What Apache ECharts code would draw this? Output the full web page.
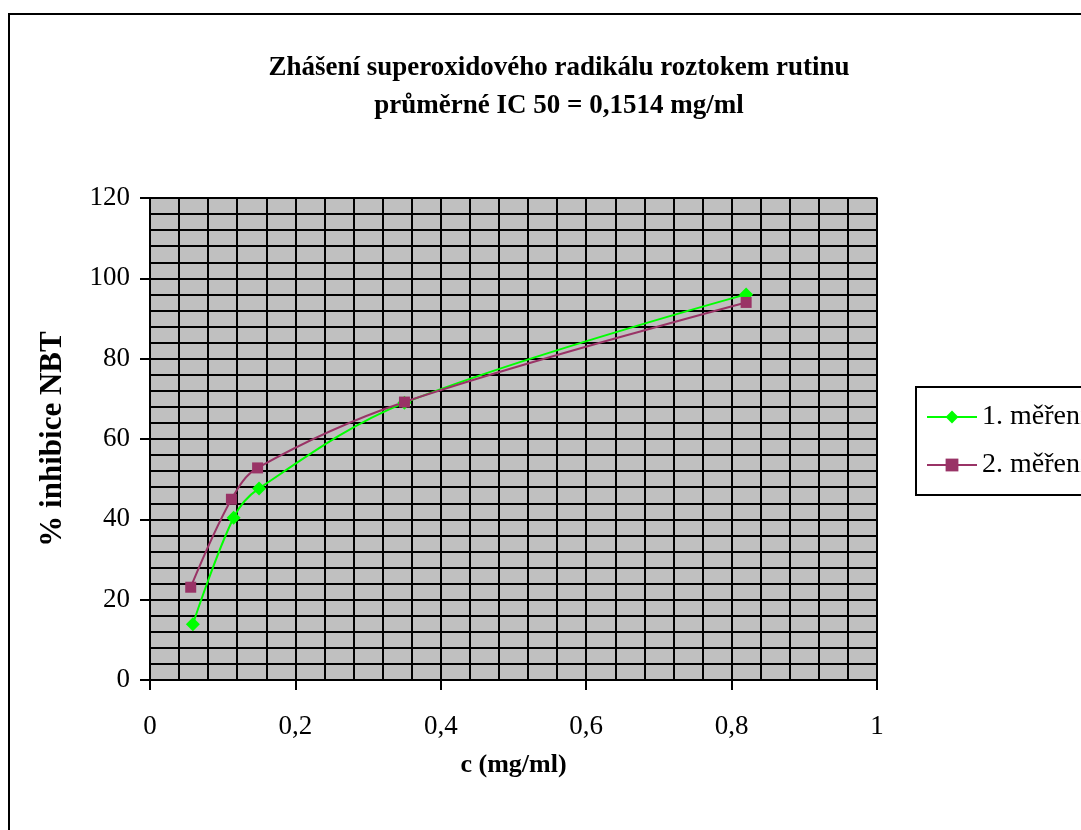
<!DOCTYPE html>
<html lang="cs">
<head>
    <meta charset="UTF-8">
    <title>Zhášení superoxidového radikálu</title>
    <script src="https://cdn.jsdelivr.net/npm/echarts@6/dist/echarts.min.js"></script>
    <style>
        html, body { margin: 0; padding: 0; background: #fff; }
    </style>
</head>
<body>
    <div id="chart" style="width:1081px;height:830px"></div>
    <script type="text/javascript">
        // data
        var seriesNames = ['1. měření', '2. měření'];
        var conc1 = [0.059, 0.115, 0.150, 0.350, 0.820];
        var inhib1 = [13.9, 40.4, 47.7, 69.0, 96.0];
        var conc2 = [0.056, 0.112, 0.148, 0.350, 0.820];
        var inhib2 = [23.1, 45.0, 52.8, 69.2, 94.0];
        var titleLines = ['Zhášení superoxidového radikálu roztokem rutinu', 'průměrné IC 50 = 0,1514 mg/ml'];

        var pairs = function (xs, ys) {
            var res = [];
            for (var i = 0; i < xs.length; i++) {
                res.push([xs[i], ys[i]]);
            }
            return res;
        };

        var serif = '"Liberation Serif", serif';
        var myChart = echarts.init(document.getElementById('chart'));

        var option = {
            animation: false,
            title: {
                text: titleLines.join('\n'),
                left: 554,
                top: 44,
                textAlign: 'center',
                textStyle: {
                    fontFamily: serif,
                    fontWeight: 'bold',
                    fontSize: 27,
                    lineHeight: 38,
                    color: '#000'
                }
            },
            graphic: [{
                type: 'rect',
                shape: { x: 9, y: 14, width: 1200, height: 900 },
                style: { fill: 'none', stroke: '#000', lineWidth: 2 },
                silent: true
            }],
            legend: {
                orient: 'vertical',
                left: 916,
                top: 387,
                padding: [16, 60, 16, 10],
                itemGap: 20,
                itemWidth: 50,
                itemHeight: 16,
                borderColor: '#000',
                borderWidth: 2,
                textStyle: { fontFamily: serif, fontSize: 28, color: '#000' },
                data: seriesNames
            },
            grid: {
                left: 150,
                top: 198,
                width: 727,
                height: 482,
                show: true,
                backgroundColor: '#c0c0c0',
                borderColor: '#808080',
                borderWidth: 2
            },
            xAxis: {
                type: 'value',
                min: 0,
                max: 1,
                interval: 0.2,
                name: 'c (mg/ml)',
                nameLocation: 'middle',
                nameGap: 72,
                nameTextStyle: { fontFamily: serif, fontWeight: 'bold', fontSize: 26, color: '#000' },
                axisLine: { show: true, lineStyle: { color: '#000', width: 2 } },
                axisTick: { show: true, length: 10, lineStyle: { color: '#000', width: 2 } },
                axisLabel: {
                    fontFamily: serif, fontSize: 27, color: '#000', margin: 33,
                    formatter: function (v) { return String(+v.toFixed(1)).replace('.', ','); }
                },
                splitLine: { show: true, lineStyle: { color: '#000', width: 2 } },
                minorTick: { show: false, splitNumber: 5 },
                minorSplitLine: { show: true, lineStyle: { color: '#000', width: 2 } }
            },
            yAxis: {
                type: 'value',
                min: 0,
                max: 120,
                interval: 20,
                name: '% inhibice NBT',
                nameLocation: 'middle',
                nameGap: 82,
                nameTextStyle: { fontFamily: serif, fontWeight: 'bold', fontSize: 31, color: '#000' },
                axisLine: { show: true, lineStyle: { color: '#000', width: 2 } },
                axisTick: { show: true, length: 10, lineStyle: { color: '#000', width: 2 } },
                axisLabel: { fontFamily: serif, fontSize: 27, color: '#000', margin: 20 },
                splitLine: { show: true, lineStyle: { color: '#000', width: 2 } },
                minorTick: { show: false, splitNumber: 5 },
                minorSplitLine: { show: true, lineStyle: { color: '#000', width: 2 } }
            },
            series: [{
                name: seriesNames[0],
                type: 'line',
                smooth: 0.35,
                data: pairs(conc1, inhib1),
                symbol: 'diamond',
                symbolSize: 14,
                itemStyle: { color: '#00ff00' },
                lineStyle: { color: '#00ff00', width: 2 }
            }, {
                name: seriesNames[1],
                type: 'line',
                smooth: 0.35,
                data: pairs(conc2, inhib2),
                symbol: 'rect',
                symbolSize: 11,
                itemStyle: { color: '#993366' },
                lineStyle: { color: '#993366', width: 2 }
            }]
        };
        myChart.setOption(option);
    </script>
</body>
</html>
